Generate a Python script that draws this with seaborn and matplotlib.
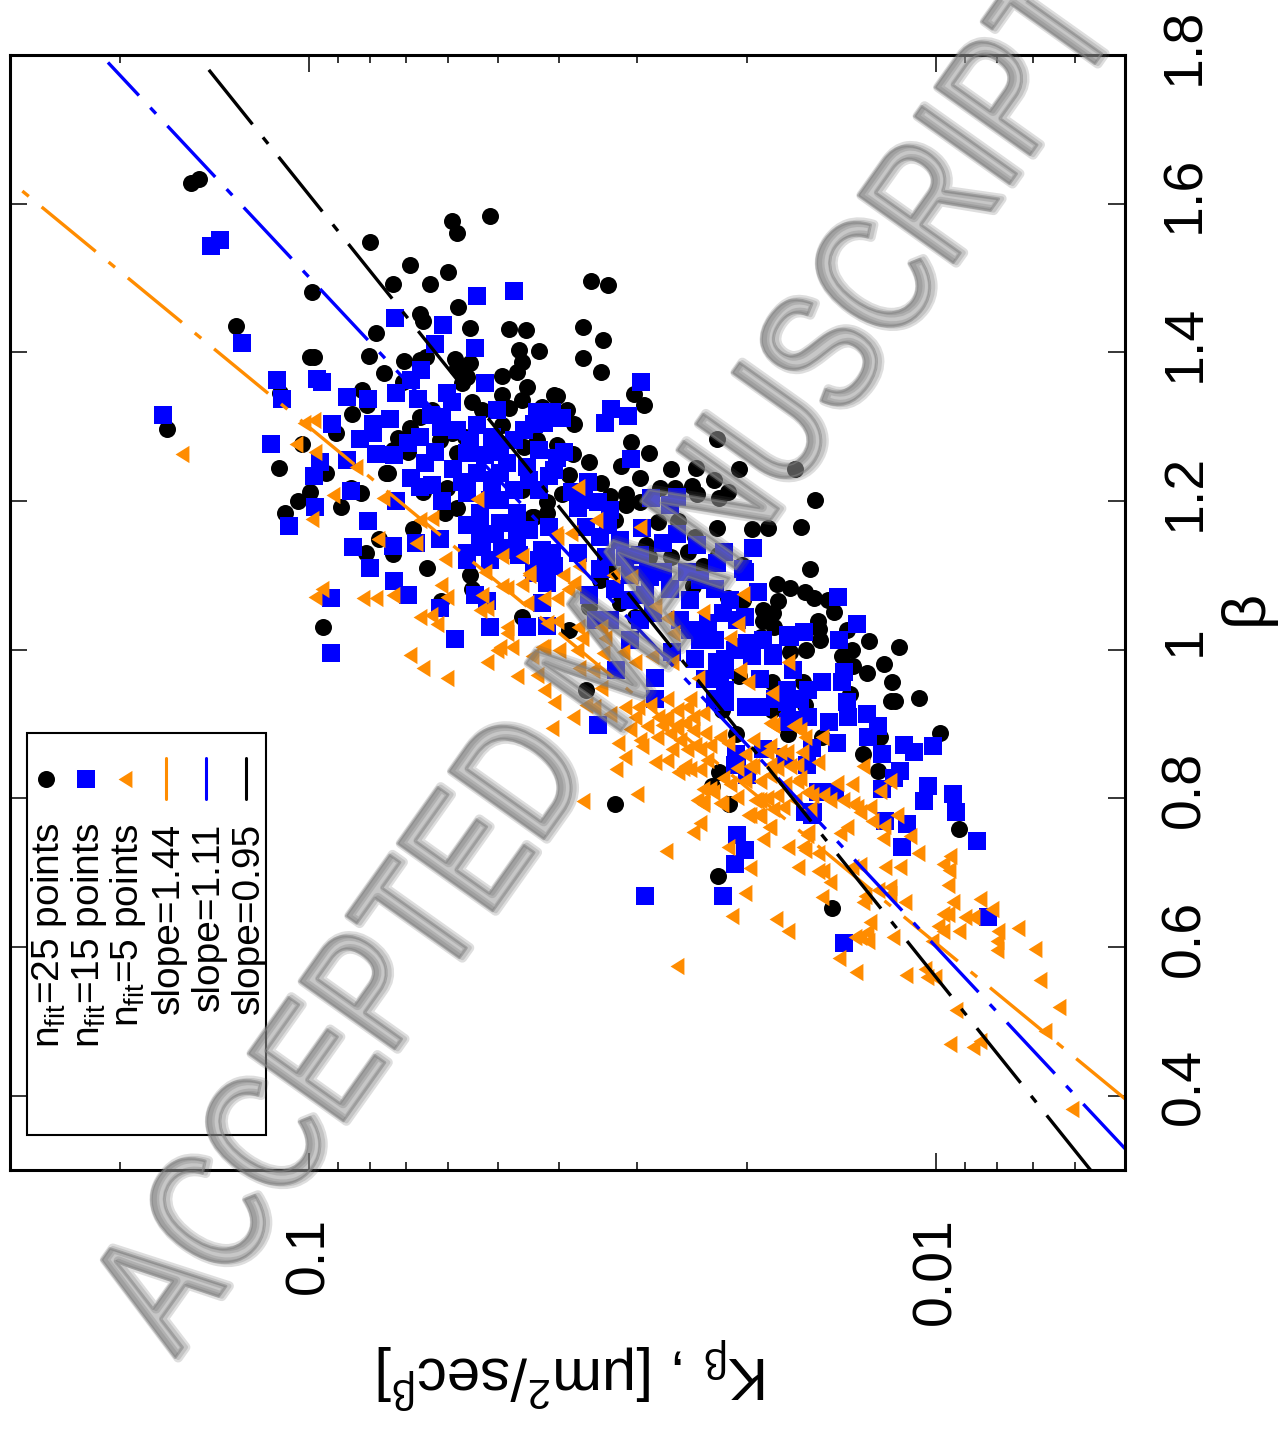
import numpy as np
import pandas as pd
import seaborn as sns
import matplotlib
matplotlib.use('Agg')
import matplotlib.pyplot as plt
import matplotlib.patheffects as pe
from matplotlib.markers import MarkerStyle
from matplotlib.patches import Rectangle
from matplotlib.transforms import Affine2D, ScaledTranslation

# (log10 K, beta)
pts_25 = [(-0.811,1.628),(-0.824,1.633),(-1.097,1.548),(-1.227,1.577),(-1.235,1.560),(-1.289,1.583),(-1.160,1.517),
(-1.222,1.508),(-1.192,1.492),(-1.133,1.492),(-1.005,1.481),(-1.238,1.461),(-1.177,1.452),(-1.182,1.442),(-0.883,1.435),
(-1.107,1.426),(-1.096,1.395),(-1.002,1.394),(-1.008,1.394),(-1.152,1.388),(-1.120,1.372),(-1.233,1.391),(-1.236,1.379),
(-1.187,1.394),(-1.176,1.390),(-1.085,1.349),(-1.069,1.317),(-1.093,1.329),(-1.149,1.360),(-0.954,1.345),(-0.773,1.297),
(-1.043,1.292),(-0.989,1.277),(-0.952,1.245),(-1.125,1.238),(-1.176,1.313),(-1.196,1.323),(-1.141,1.285),(-1.160,1.298),
(-1.228,1.292),(-1.248,1.286),(-1.208,1.282),(-1.235,1.265),(-1.133,1.269),(-1.157,1.266),(-1.027,1.238),(-0.982,1.200),
(-1.002,1.212),(-0.962,1.184),(-1.050,1.192),(-1.083,1.211),(-1.067,1.218),(-1.123,1.237),(-1.022,1.030),(-1.188,1.110),
(-1.165,1.163),(-1.112,1.149),(-1.091,1.130),(-1.133,1.129),(-1.256,1.101),(-1.260,1.081),(-1.211,1.065),(-1.340,1.044),
(-1.220,1.218),(-1.181,1.212),(-1.236,1.191),(-1.216,1.184),(-1.339,1.215),(-1.380,1.198),(-1.356,1.179),(-1.343,1.272),
(-1.307,1.343),(-1.347,1.353),(-1.340,1.336),(-1.391,1.343),(-1.372,1.327),(-1.319,1.325),(-1.275,1.323),(-1.260,1.333),
(-1.244,1.359),(-1.450,1.496),(-1.476,1.491),(-1.257,1.433),(-1.318,1.431),(-1.345,1.430),(-1.436,1.434),(-1.468,1.417),
(-1.334,1.403),(-1.366,1.402),(-1.436,1.392),(-1.466,1.374),(-1.257,1.386),(-1.339,1.387),(-1.331,1.374),(-1.307,1.368),
(-1.252,1.367),(-1.396,1.341),(-1.411,1.323),(-1.423,1.304),(-1.518,1.344),(-1.534,1.329),(-1.307,1.302),(-1.650,1.284),
(-1.514,1.280),(-1.542,1.265),(-1.420,1.263),(-1.396,1.275),(-1.363,1.282),(-1.447,1.253),(-1.497,1.247),(-1.577,1.243),
(-1.617,1.245),(-1.685,1.243),(-1.527,1.231),(-1.415,1.235),(-1.645,1.228),(-1.610,1.220),(-1.559,1.218),(-1.583,1.218),
(-1.618,1.210),(-1.668,1.212),(-1.653,1.204),(-1.506,1.210),(-1.506,1.194),(-1.527,1.198),(-1.479,1.207),(-1.466,1.224),
(-1.403,1.210),(-1.380,1.184),(-1.359,1.179),(-1.556,1.172),(-1.588,1.173),(-1.706,1.163),(-1.732,1.164),(-1.650,1.164),
(-1.487,1.175),(-1.775,1.243),(-1.807,1.202),(-1.784,1.165),(-1.537,1.141),(-1.542,1.125),(-1.577,1.124),(-1.604,1.132),
(-1.615,1.151),(-1.652,1.128),(-1.690,1.114),(-1.628,1.112),(-1.799,1.108),(-1.746,1.089),(-1.767,1.083),(-1.791,1.078),
(-1.805,1.070),(-1.827,1.067),(-1.837,1.051),(-1.748,1.065),(-1.724,1.054),(-1.740,1.050),(-1.668,1.070),(-1.692,1.067),
(-1.724,1.038),(-1.741,1.031),(-1.720,1.017),(-1.811,1.038),(-1.813,1.028),(-1.815,1.013),(-1.792,0.999),(-1.767,0.997),
(-1.858,1.026),(-1.893,1.012),(-1.941,1.004),(-1.866,1.000),(-1.850,0.991),(-1.867,0.978),(-1.917,0.981),(-1.890,0.969),
(-1.930,0.957),(-1.928,0.931),(-1.935,0.931),(-1.973,0.935),(-1.863,0.940),(-1.685,0.964),(-1.738,0.957),(-1.788,0.956),
(-1.791,0.926),(-1.738,0.919),(-2.006,0.888),(-1.911,0.882),(-1.883,0.859),(-1.907,0.837),(-1.764,0.886),(-1.681,0.887),
(-1.818,0.882),(-1.653,0.836),(-1.642,0.816),(-1.669,0.792),(-1.658,0.919),(-1.487,0.792),(-1.652,0.695),(-1.834,0.653),
(-2.037,0.759),(-1.414,1.027),(-1.442,0.946),(-1.447,1.058),(-1.463,1.094),(-1.495,1.063),(-1.519,1.044),(-1.476,1.108),
(-1.612,1.085)]

pts_15 = [(-0.843,1.543),(-0.858,1.551),(-0.893,1.413),(-0.949,1.363),(-1.013,1.364),(-1.021,1.360),(-0.957,1.337),
(-0.767,1.316),(-1.061,1.340),(-1.094,1.337),(-1.037,1.304),(-0.939,1.277),(-1.137,1.446),(-1.214,1.437),(-1.201,1.411),
(-1.179,1.376),(-1.163,1.363),(-1.139,1.345),(-1.174,1.337),(-1.219,1.345),(-1.227,1.333),(-1.195,1.316),(-1.212,1.313),
(-1.211,1.300),(-1.129,1.310),(-1.102,1.304),(-1.081,1.284),(-1.107,1.263),(-1.102,1.292),(-1.136,1.262),(-1.157,1.278),
(-1.176,1.286),(-1.200,1.266),(-1.185,1.251),(-1.230,1.243),(-1.061,1.255),(-1.018,1.253),(-1.008,1.233),(-1.163,1.231),
(-1.251,1.265),(-1.067,1.214),(-1.010,1.192),(-0.968,1.167),(-1.094,1.173),(-1.070,1.138),(-1.134,1.140),(-1.097,1.110),
(-1.136,1.093),(-1.034,1.070),(-1.157,1.073),(-1.209,1.056),(-1.232,1.015),(-1.035,0.996),(-1.289,1.031),(-1.347,1.030),
(-1.264,1.073),(-1.283,1.065),(-1.171,1.144),(-1.208,1.149),(-1.139,1.200),(-1.176,1.219),(-1.196,1.222),(-1.212,1.200),
(-1.267,1.238),(-1.244,1.226),(-1.292,1.228),(-1.252,1.130),(-1.252,1.211),(-1.288,1.202),(-1.272,1.184),(-1.252,1.168),
(-1.304,1.171),(-1.272,1.152),(-1.319,1.137),(-1.372,1.134),(-1.388,1.118),(-1.359,1.103),(-1.379,1.090),(-1.371,1.063),
(-1.380,1.032),(-1.383,1.165),(-1.332,1.184),(-1.331,1.171),(-1.304,1.238),(-1.347,1.246),(-1.383,1.233),(-1.367,1.269),
(-1.395,1.258),(-1.315,1.251),(-1.267,1.302),(-1.292,1.286),(-1.300,1.323),(-1.363,1.316),(-1.388,1.316),(-1.268,1.476),
(-1.327,1.483),(-1.265,1.406),(-1.280,1.359),(-1.529,1.360),(-1.481,1.324),(-1.508,1.315),(-1.471,1.305),(-1.514,1.257),
(-1.545,1.204),(-1.575,1.195),(-1.586,1.206),(-1.388,1.320),(-1.403,1.312),(-1.363,1.320),(-1.359,1.304),(-1.375,1.305),
(-1.292,1.266),(-1.407,1.266),(-1.391,1.242),(-1.251,1.222),(-1.367,1.215),(-1.419,1.212),(-1.444,1.226),(-1.460,1.199),
(-1.428,1.191),(-1.291,1.206),(-1.476,1.168),(-1.530,1.164),(-1.586,1.155),(-1.618,1.141),(-1.661,1.132),(-1.708,1.137),
(-1.564,1.144),(-1.503,1.125),(-1.463,1.151),(-1.442,1.165),(-1.474,1.125),(-1.332,1.148),(-1.388,1.130),(-1.428,1.130),
(-1.391,1.112),(-1.363,1.103),(-1.540,1.105),(-1.564,1.105),(-1.602,1.105),(-1.695,1.105),(-1.251,1.121),(-1.276,1.138),
(-1.308,1.134),(-1.650,1.117),(-1.692,1.108),(-1.716,1.077),(-1.682,1.040),(-1.660,1.050),(-1.636,1.036),(-1.650,0.983),
(-1.698,1.009),(-1.740,0.996),(-1.767,1.017),(-1.703,0.923),(-1.460,0.899),(-1.551,0.962),(-1.551,0.933),(-1.490,0.973),
(-1.578,0.997),(-1.548,1.050),(-1.511,1.101),(-1.543,1.098),(-1.458,1.040),(-1.447,1.074),(-1.682,0.852),(-1.663,0.973),
(-1.647,0.960),(-1.647,0.933),(-1.843,1.071),(-1.874,1.035),(-1.845,1.013),(-1.789,1.024),(-1.764,1.020),(-1.716,1.078),
(-1.695,1.044),(-1.706,0.991),(-1.695,1.003),(-1.740,0.991),(-1.663,0.988),(-1.655,0.964),(-1.663,0.946),(-1.663,0.930),
(-1.772,0.973),(-1.818,0.957),(-1.853,0.970),(-1.850,0.957),(-1.858,0.929),(-1.696,0.923),(-1.720,0.923),(-1.762,0.946),
(-1.796,0.946),(-1.762,0.929),(-1.796,0.910),(-1.764,0.903),(-1.859,0.910),(-1.829,0.903),(-1.890,0.914),(-1.907,0.897),
(-1.891,0.882),(-1.842,0.875),(-1.949,0.872),(-1.965,0.862),(-1.995,0.870),(-1.914,0.859),(-1.942,0.837),(-1.933,0.827),
(-1.987,0.816),(-1.981,0.797),(-2.026,0.806),(-2.032,0.781),(-1.681,0.859),(-1.724,0.866),(-1.759,0.855),(-1.802,0.868),
(-1.794,0.845),(-1.679,0.845),(-1.698,0.832),(-1.811,0.809),(-1.839,0.809),(-1.914,0.812),(-1.791,0.781),(-1.804,0.782),
(-1.919,0.769),(-1.954,0.766),(-1.682,0.751),(-1.695,0.730),(-1.679,0.712),(-1.535,0.669),(-1.660,0.669),(-1.853,0.605),
(-2.065,0.743),(-2.083,0.641),(-1.946,0.735),(-1.815,0.808),(-1.802,0.778),
# dense middle of the cloud, partly hidden
(-1.236,1.296),(-1.256,1.282),(-1.280,1.262),(-1.304,1.275),(-1.327,1.282),(-1.343,1.296),(-1.351,1.228),(-1.327,1.215),
(-1.304,1.202),(-1.272,1.168),(-1.296,1.155),(-1.351,1.161),(-1.335,1.128),(-1.288,1.121),(-1.367,1.121),(-1.439,1.202),
(-1.479,1.188),(-1.495,1.148),(-1.527,1.128),(-1.463,1.108),(-1.487,1.081),(-1.511,1.067),(-1.535,1.074),(-1.479,1.040),
(-1.511,1.013),(-1.527,1.040),(-1.575,1.081),(-1.607,1.067),(-1.591,1.040),(-1.623,1.013),(-1.647,1.013),(-1.615,0.987),
(-1.631,0.960),(-1.679,1.000),(-1.671,1.067),(-1.647,1.081),(-1.623,1.094),(-1.607,1.027),(-1.719,0.960),(-1.743,0.933),
(-1.767,0.906),(-1.783,0.933),(-1.724,1.013)]

pts_5 = [(-0.797,1.263),(-0.992,1.305),(-1.008,1.309),(-0.979,1.277),(-1.010,1.266),(-1.075,1.246),(-1.038,1.208),
(-1.005,1.176),(-1.118,1.204),(-1.176,1.175),(-1.196,1.177),(-1.109,1.149),(-1.171,1.144),(-1.217,1.122),(-1.267,1.203),
(-1.280,1.105),(-1.307,1.126),(-1.340,1.126),(-1.351,1.101),(-1.339,1.089),(-1.211,1.087),(-1.220,1.071),(-1.276,1.073),
(-1.272,1.054),(-1.283,1.056),(-1.308,1.085),(-1.316,1.083),(-1.348,1.063),(-1.375,1.070),(-1.395,1.070),(-1.021,1.082),
(-1.010,1.071),(-1.086,1.069),(-1.107,1.069),(-1.134,1.073),(-1.176,1.044),(-1.195,1.046),(-1.204,1.034),(-1.160,0.993),
(-1.182,0.976),(-1.315,1.031),(-1.316,1.023),(-1.379,1.036),(-1.395,1.038),(-1.284,0.983),(-1.323,1.004),(-1.305,1.004),
(-1.299,1.000),(-1.355,0.991),(-1.372,1.004),(-1.219,0.962),(-1.331,0.964),(-1.363,0.966),(-1.395,1.152),(-1.428,1.219),
(-1.457,1.175),(-1.393,1.155),(-1.417,1.157),(-1.527,1.165),(-1.350,1.103),(-1.404,1.101),(-1.430,1.113),(-1.484,1.101),
(-1.514,1.098),(-1.423,1.090),(-1.412,1.081),(-1.551,1.059),(-1.628,1.051),(-1.692,1.075),(-1.570,1.042),(-1.684,1.034),
(-1.671,1.016),(-1.580,1.023),(-1.428,1.031),(-1.466,1.031),(-1.471,1.016),(-1.435,1.016),(-1.468,0.996),(-1.500,0.997),
(-1.546,0.991),(-1.519,0.983),(-1.578,0.984),(-1.687,0.973),(-1.764,0.983),(-1.700,0.956),(-1.738,0.942),(-1.620,0.962),
(-1.375,1.004),(-1.399,1.000),(-1.427,1.000),(-1.452,0.973),(-1.431,0.976),(-1.466,0.949),(-1.375,0.946),(-1.391,0.930),
(-1.442,0.926),(-1.455,0.923),(-1.503,0.923),(-1.524,0.923),(-1.420,0.910),(-1.388,0.895),(-1.519,0.910),(-1.492,0.875),
(-1.503,0.856),(-1.490,0.839),(-1.551,0.849),(-1.530,0.870),(-1.556,0.910),(-1.570,0.910),(-1.586,0.919),(-1.602,0.923),
(-1.612,0.910),(-1.628,0.915),(-1.538,0.897),(-1.554,0.883),(-1.575,0.888),(-1.599,0.902),(-1.612,0.892),(-1.631,0.888),
(-1.655,0.883),(-1.668,0.875),(-1.602,0.866),(-1.623,0.866),(-1.578,0.866),(-1.634,0.852),(-1.607,0.839),(-1.623,0.839),
(-1.682,0.841),(-1.708,0.879),(-1.730,0.863),(-1.751,0.862),(-1.708,0.843),(-1.746,0.841),(-1.767,0.843),(-1.735,0.902),
(-1.772,0.897),(-1.775,0.898),(-1.740,0.899),(-1.791,0.882),(-1.818,0.882),(-1.735,0.870),(-1.762,0.862),(-1.786,0.862),
(-1.811,0.849),(-1.778,0.845),(-1.883,0.843),(-1.927,0.823),(-1.911,0.810),(-1.866,0.819),(-1.842,0.820),(-1.820,0.805),
(-1.802,0.805),(-1.851,0.798),(-1.874,0.788),(-1.895,0.788),(-1.917,0.763),(-1.938,0.777),(-1.858,0.762),(-1.794,0.751),
(-1.735,0.761),(-1.719,0.776),(-1.700,0.778),(-1.756,0.788),(-1.746,0.805),(-1.778,0.823),(-1.719,0.823),(-1.703,0.843),
(-1.660,0.828),(-1.628,0.812),(-1.644,0.808),(-1.618,0.798),(-1.658,0.792),(-1.628,0.792),(-1.682,0.802),(-1.711,0.798),
(-1.623,0.767),(-1.612,0.755),(-1.958,0.749),(-1.596,0.841),(-1.436,0.796),(-1.522,0.806),(-1.569,0.729),(-1.668,0.734),
(-1.703,0.706),(-1.695,0.673),(-1.674,0.642),(-1.744,0.637),(-1.764,0.621),(-1.818,0.667),(-1.845,0.585),(-1.586,0.574),
(-1.872,0.566),(-1.724,0.745),(-1.733,0.761),(-1.780,0.708),(-1.764,0.734),(-1.788,0.734),(-1.811,0.702),(-1.831,0.688),
(-1.811,0.727),(-1.847,0.754),(-1.871,0.613),(-1.796,0.755),(-1.703,0.778),(-1.716,0.778),(-1.740,0.785),(-1.714,0.798),
(-1.794,0.809),(-1.867,0.792),(-1.588,0.835),(-1.599,0.843),(-1.628,0.796),(-1.655,0.794),(-1.730,0.801),(-1.783,0.828),
(-1.915,0.746),(-1.971,0.726),(-1.919,0.708),(-1.942,0.708),(-2.011,0.711),(-2.022,0.722),(-2.021,0.704),(-2.019,0.684),
(-2.027,0.660),(-2.070,0.664),(-2.089,0.651),(-2.010,0.645),(-2.019,0.644),(-2.046,0.641),(-2.059,0.641),(-2.003,0.628),
(-2.011,0.621),(-2.037,0.622),(-2.131,0.626),(-2.099,0.621),(-2.097,0.608),(-2.097,0.596),(-2.158,0.597),(-2.166,0.556),
(-2.196,0.519),(-2.174,0.487),(-2.032,0.515),(-2.022,0.470),(-2.059,0.465),(-2.070,0.474),(-1.952,0.562),(-1.982,0.570),
(-1.986,0.559),(-1.998,0.560),(-1.879,0.613),(-1.891,0.608),(-1.890,0.620),(-1.895,0.633),(-1.931,0.613),(-1.994,0.608),
(-1.950,0.660),(-1.927,0.671),(-1.927,0.681),(-1.907,0.677),(-1.887,0.668),(-1.883,0.660),(-1.879,0.710),(-1.866,0.708),
(-1.820,0.702),(-1.791,0.731),(-1.898,0.769),(-1.879,0.782),(-2.216,0.382),
# dense part of the orange band
(-1.479,0.913),(-1.511,0.893),(-1.543,0.926),(-1.570,0.933),(-1.527,0.879),(-1.570,0.852),(-1.591,0.879),(-1.615,0.872),
(-1.639,0.872),(-1.562,0.899),(-1.586,0.899),(-1.607,0.933),(-1.639,0.812),(-1.671,0.819),(-1.695,0.825),(-1.719,0.798),
(-1.735,0.832),(-1.759,0.819),(-1.775,0.798),(-1.799,0.785),(-1.831,0.798),(-1.695,0.859),(-1.735,0.845),(-1.783,0.892)]

# fits: log10 K = slope*beta + intercept, drawn between beta_lo and beta_hi
slopes = [1.44, 1.11, 0.95]
intercepts = [-2.871, -2.666, -2.531]
beta_lo = [0.39, 0.32, 0.30]
beta_hi = [1.62, 1.79, 1.78]
line_colors = ['#ff8c00', '#0000ff', 'black']

beta_ticks = [0.4, 0.6, 0.8, 1, 1.2, 1.4, 1.6, 1.8]
beta_labels = ['0.4', '0.6', '0.8', '1', '1.2', '1.4', '1.6', '1.8']
k_ticks = [0.1, 0.01]
k_labels = ['0.1', '0.01']
k_minor = [0.2, 0.09, 0.08, 0.07, 0.06, 0.05, 0.04, 0.03, 0.02, 0.009, 0.008, 0.007, 0.006]

sns.set_theme(style='ticks')
plt.rcParams['font.family'] = ['Liberation Sans', 'DejaVu Sans']
plt.rcParams['mathtext.fontset'] = 'custom'
plt.rcParams['mathtext.rm'] = 'Liberation Sans'
plt.rcParams['mathtext.it'] = 'Liberation Sans'
plt.rcParams['mathtext.default'] = 'regular'
plt.rcParams['text.color'] = 'black'
plt.rcParams['axes.labelcolor'] = 'black'
plt.rcParams['xtick.labelcolor'] = 'black'
plt.rcParams['ytick.labelcolor'] = 'black'

# narrower than matplotlib's own triangle
tri = MarkerStyle(np.array([(-0.8, 0), (0.8, 1), (0.8, -1), (-0.8, 0)]))


def to_df(pts):
    df = pd.DataFrame(pts, columns=['logk', 'beta'])
    df['K'] = 10**df['logk']
    return df


class Squeezed(pe.AbstractPathEffect):
    # watermark letters are narrower than the font, squeeze along the baseline
    def __init__(self, anchor, angle, sx, color, alpha, lw, fill=True, offset=(0, 0)):
        super().__init__(offset)
        self.squeeze = (Affine2D().translate(-anchor[0], -anchor[1]).rotate_deg(-angle)
                        .scale(sx, 1).rotate_deg(angle).translate(anchor[0], anchor[1]))
        self.color, self.alpha, self.lw, self.fill = color, alpha, lw, fill

    def draw_path(self, renderer, gc, tpath, affine, rgbFace=None):
        gc0 = renderer.new_gc()
        gc0.copy_properties(gc)
        gc0.set_foreground(self.color)
        gc0.set_alpha(self.alpha)
        gc0.set_linewidth(self.lw)
        gc0.set_joinstyle('round')
        face = matplotlib.colors.to_rgb(self.color) if self.fill else None
        renderer.draw_path(gc0, tpath, self._offset_transform(renderer) + affine + self.squeeze, face)
        gc0.restore()


fig = plt.figure(figsize=(12.78, 14.37), dpi=100)
ax = fig.add_axes([10/1278, 1 - 1170/1437, 1115/1278, 1115/1437])

sns.scatterplot(data=to_df(pts_25), x='K', y='beta', marker='o', s=150, color='black', linewidth=0, ax=ax)
sns.scatterplot(data=to_df(pts_15), x='K', y='beta', marker='s', s=150, color='#0000ff', linewidth=0, ax=ax)
sns.scatterplot(data=to_df(pts_5), x='K', y='beta', marker=tri, s=155, color='#ff8c00', linewidth=0, ax=ax)

for s, c, lo, hi, col in zip(slopes, intercepts, beta_lo, beta_hi, line_colors):
    b = np.array([lo, hi])
    fit = pd.DataFrame({'K': 10**(s*b + c), 'beta': b})
    sns.lineplot(data=fit, x='K', y='beta', color=col, linewidth=2.4, estimator=None, sort=False,
                 linestyle=(0, (21, 5, 2.5, 5)), ax=ax)

ax.set_xscale('log')
ax.set_xlim(0.3, 0.005)
ax.set_ylim(0.3, 1.8)
ax.set_xticks(k_ticks)
ax.set_xticklabels(k_labels)
ax.set_xticks(k_minor, minor=True)
ax.set_xticklabels([''] * len(k_minor), minor=True)
ax.set_yticks(beta_ticks)
ax.set_yticklabels(beta_labels)
ax.tick_params(axis='both', which='major', direction='in', length=12, width=1.1, labelsize=40, color='black')
ax.tick_params(axis='both', which='minor', direction='in', length=6, width=1.1, color='black')
ax.tick_params(axis='x', which='both', top=True, bottom=True)
ax.tick_params(axis='x', which='major', pad=34, labelrotation=90)
ax.tick_params(axis='y', which='major', left=True, right=True, labelleft=False, labelright=True, pad=25, labelrotation=90)
for lab in ax.get_yticklabels():
    lab.set_va('center')
    lab.set_transform(lab.get_transform() + ScaledTranslation(0, 9/100, fig.dpi_scale_trans))
for lab in ax.get_xticklabels():
    lab.set_va('top')
for side in ax.spines.values():
    side.set_linewidth(2.2)
    side.set_color('black')

ax.set_xlabel(r'K$_{\beta}$ , [$\mu$m$^2$/sec$^{\beta}$]', fontsize=43, rotation=180)
ax.xaxis.set_label_coords(0.505, -0.147)
ax.yaxis.set_label_position('right')
ax.set_ylabel(r'$\beta$', fontsize=44, rotation=90)
ax.yaxis.set_label_coords(1.085, 0.50)


# legend is turned with the page, so it is put together by hand
def axfrac(x, y):
    return (x - 10)/1115, (1170 - y)/1115


bx0, by0 = axfrac(27, 1135)
bx1, by1 = axfrac(266, 733)
ax.add_patch(Rectangle((bx0, by0), bx1 - bx0, by1 - by0, transform=ax.transAxes, fill=False,
                       edgecolor='black', linewidth=1.5, zorder=5))
legend_text = [r'n$_{fit}$=25 points', r'n$_{fit}$=15 points', r'n$_{fit}$=5 points',
               'slope=1.44', 'slope=1.11', 'slope=0.95']
legend_x = [46, 86, 125, 166, 206, 246]
for txt, lx in zip(legend_text, legend_x):
    ax.text(*axfrac(lx + 13, 823), txt, transform=ax.transAxes, rotation=90, rotation_mode='anchor',
            ha='right', va='baseline', fontsize=28, zorder=6)
for lx, mk, col in zip(legend_x[:3], ['o', 's', tri], ['black', '#0000ff', '#ff8c00']):
    ax.scatter(*axfrac(lx, 779), marker=mk, s=155 if mk is tri else 150, color=col, linewidth=0,
               transform=ax.transAxes, zorder=6)
for lx, col in zip(legend_x[3:], line_colors):
    p0, p1 = axfrac(lx, 758), axfrac(lx, 799)
    ax.plot([p0[0], p1[0]], [p0[1], p1[1]], color=col, linewidth=2.2, transform=ax.transAxes, zorder=6)

# watermark over everything
anchor = (175, 1437 - 1358)
angle = 54.6
sx = 0.782
wm = fig.text(175/1278, 1 - 1358/1437, 'ACCEPTED MANUSCRIPT', fontsize=122, rotation=angle,
              rotation_mode='anchor', ha='left', va='baseline', family='Liberation Sans', color='#999999', zorder=10)
wm.set_path_effects([
    Squeezed(anchor, angle, sx, '#999999', 0.55, 2),
    Squeezed(anchor, angle, sx, '#5c5c5c', 0.2, 7, fill=False, offset=(1, -1)),
    Squeezed(anchor, angle, sx, '#5c5c5c', 0.2, 3.5, fill=False, offset=(1, -1)),
])

fig.savefig('out.png', dpi=100)
